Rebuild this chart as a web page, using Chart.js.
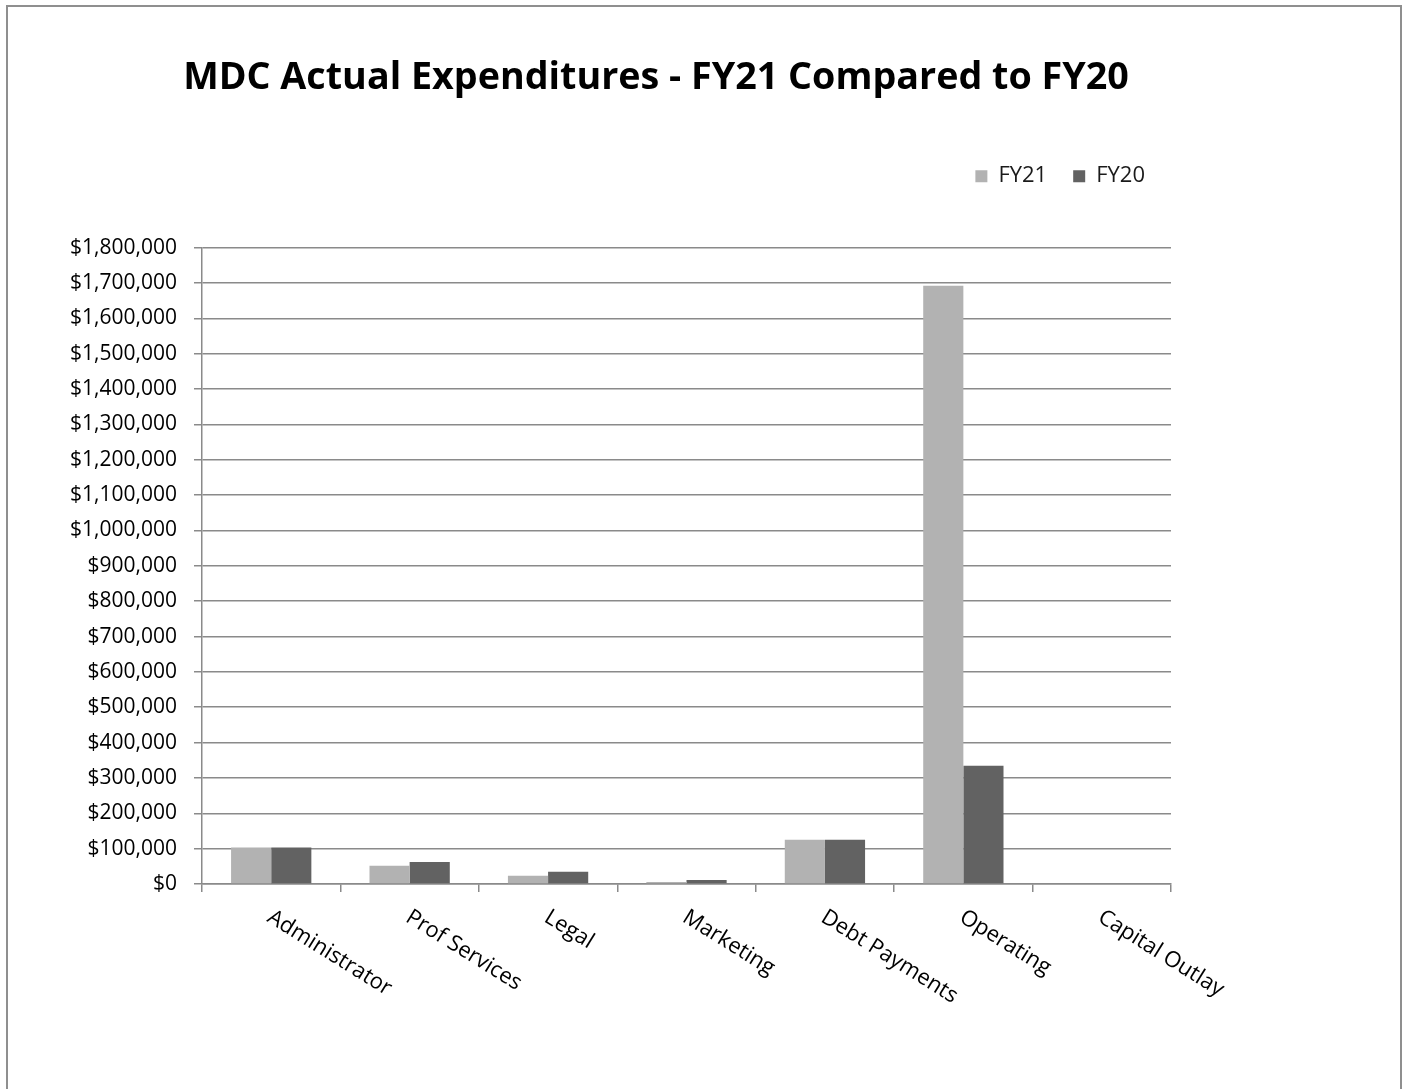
<!DOCTYPE html>
<html>
<head>
<meta charset="utf-8">
<script src="https://cdn.jsdelivr.net/npm/chart.js@4.4.1/dist/chart.umd.min.js"></script>
<style>
  html, body { margin: 0; padding: 0; background: #fff; overflow: hidden; }
  #frame { position: absolute; left: 6px; top: 5px; width: 1392px; height: 1200px; border: 2px solid #8f8f8f; }
  #chart { position: absolute; left: 0; top: 0; }
</style>
</head>
<body>
<div id="frame"></div>
<canvas id="chart" width="1404" height="1089"></canvas>
<script>
// values
const categories = ['Administrator', 'Prof Services', 'Legal', 'Marketing', 'Debt Payments', 'Operating', 'Capital Outlay'];
const fy21 = [103500, 51800, 23500, 5500, 125300, 1692500, 0];
const fy20 = [103500, 62200, 34800, 11500, 125300, 334600, 0];
const seriesNames = ['FY21', 'FY20'];
const titleText = 'MDC Actual Expenditures - FY21 Compared to FY20';

const FONT = "'Open Sans', 'DejaVu Sans', sans-serif";
const gridColor = '#8a8a8a';

// x labels are slanted down to the right, so draw them from the scale positions
const slantedLabels = {
    id: 'slantedLabels',
    afterDraw(chart) {
        const xs = chart.scales.x;
        const ctx = chart.ctx;
        ctx.save();
        ctx.font = '22px ' + FONT;
        ctx.fillStyle = '#000';
        ctx.textAlign = 'left';
        ctx.textBaseline = 'top';
        categories.forEach((c, i) => {
            ctx.save();
            ctx.translate(xs.getPixelForValue(i) + 4, chart.chartArea.bottom + 22);
            ctx.rotate(32 * Math.PI / 180);
            ctx.fillText(c, 0, 0);
            ctx.restore();
        });
        ctx.restore();
    }
};

// empty axes that only hold space (gap under the legend, margin on the right)
const spacer = size => ({
    display: true,
    grid: { display: false },
    border: { display: false },
    ticks: { display: false },
    afterFit: size
});

new Chart(document.getElementById('chart').getContext('2d'), {
    type: 'bar',
    data: {
        labels: categories,
        datasets: [
            { label: seriesNames[0], data: fy21, backgroundColor: '#b2b2b2', borderWidth: 0 },
            { label: seriesNames[1], data: fy20, backgroundColor: '#626262', borderWidth: 0 }
        ]
    },
    options: {
        responsive: false,
        animation: false,
        devicePixelRatio: 1,
        datasets: { bar: { categoryPercentage: 0.58, barPercentage: 1.0 } },
        layout: { padding: { left: 10, right: 102, top: 0, bottom: 0 } },
        scales: {
            x: {
                ticks: { display: false },
                grid: { offset: true, drawOnChartArea: false, color: gridColor, lineWidth: 1.5, tickLength: 8 },
                border: { color: gridColor, width: 1.5 },
                afterFit: s => { s.height = 205; }
            },
            y: {
                min: 0,
                max: 1800000,
                ticks: {
                    stepSize: 100000,
                    padding: 17,
                    color: '#000',
                    font: { family: FONT, size: 21 },
                    callback: v => '$' + Number(v).toLocaleString('en-US')
                },
                grid: { color: gridColor, lineWidth: 1.5, tickLength: 8 },
                border: { color: gridColor, width: 1.5 },
                afterFit: s => { s.width = 192; }
            },
            xTop: Object.assign({ type: 'category', position: 'top' }, spacer(s => { s.height = 50.5; })),
            yRight: Object.assign({ type: 'linear', position: 'right' }, spacer(s => { s.width = 131; }))
        },
        plugins: {
            title: {
                display: true,
                text: titleText,
                color: '#000',
                font: { family: FONT, size: 37.7, weight: 'bold', lineHeight: 1.2 },
                padding: { top: 56, bottom: 37.9 }
            },
            legend: {
                display: true,
                position: 'top',
                align: 'end',
                fullSize: false,
                labels: {
                    boxWidth: 12,
                    boxHeight: 12,
                    padding: 26,
                    color: '#1a1a1a',
                    font: { family: FONT, size: 22 }
                }
            },
            tooltip: { enabled: false }
        }
    },
    plugins: [slantedLabels]
});
</script>
</body>
</html>
